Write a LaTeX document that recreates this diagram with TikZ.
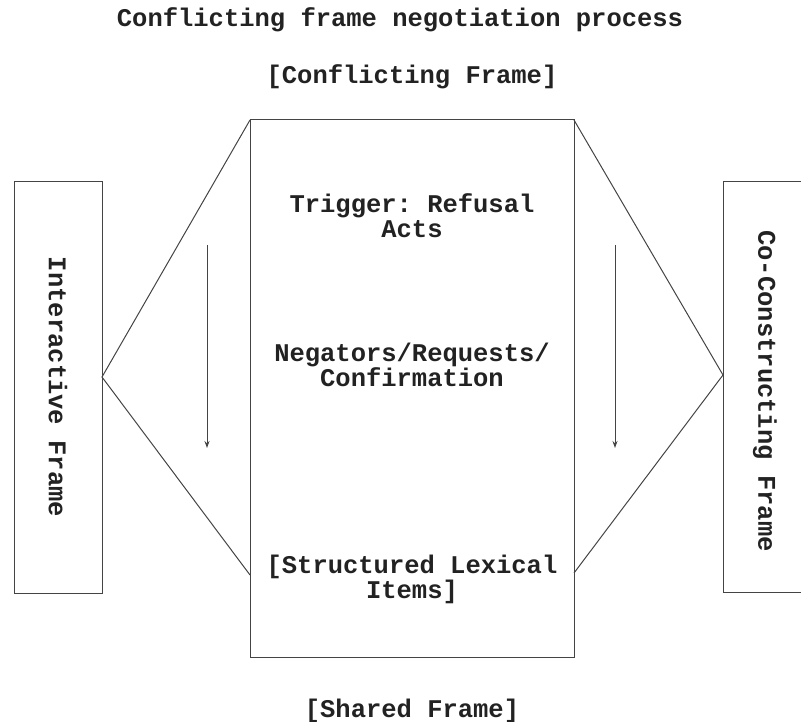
\documentclass[tikz,border=0pt]{standalone}
\usepackage{fontspec}
\setmonofont{Liberation Mono}
\usetikzlibrary{arrows.meta}
\definecolor{ink}{HTML}{222222}
\definecolor{edge}{HTML}{444444}
\begin{document}
\begin{tikzpicture}[x=1pt,y=-1pt,
  txt/.style={font=\ttfamily\bfseries\fontsize{25.5}{25}\selectfont, text=ink, align=center, inner sep=0pt},
  frame/.style={draw=edge, line width=1pt},
  link/.style={draw=edge, line width=1pt},
  flow/.style={draw=edge, line width=1pt, -{Stealth[length=7pt,width=5pt]}}]
\useasboundingbox (0,0) rectangle (801,722);
% boxes
\node[frame, minimum width=324pt, minimum height=537pt, inner sep=0pt] (center) at (412,388.5) {};
\node[frame, minimum width=88pt, minimum height=411pt, inner sep=0pt] (left) at (58,387.5) {};
\coordinate (rtop) at (801,182);
\coordinate (rtl) at (723,182);
\coordinate (rbl) at (723,592);
\coordinate (rbot) at (801,592);
\draw[frame] (rtop) -- (rtl) -- (rbl) -- (rbot);
% apex coordinates
\coordinate (lapex) at (102,377);
\coordinate (rapex) at (723,375);
\coordinate (clt) at (250,120);
\coordinate (clb) at (250,575);
\coordinate (crt) at (574,120);
\coordinate (crb) at (574,573);
\draw[link] (clt) -- (lapex) -- (clb);
\draw[link] (crt) -- (rapex) -- (crb);
% arrows
\coordinate (la1) at (207,245);
\coordinate (la2) at (207,448);
\coordinate (ra1) at (615,245);
\coordinate (ra2) at (615,448);
\draw[flow] (la1) -- (la2);
\draw[flow] (ra1) -- (ra2);
% texts
\node[txt] (title) at (400,20) {Conflicting frame negotiation process};
\node[txt] (conf) at (412,77) {[Conflicting Frame]};
\node[txt] (trig) at (412,216) {Trigger: Refusal\\Acts};
\node[txt] (neg) at (412,365) {Negators/Requests/\\Confirmation};
\node[txt] (struct) at (412,579) {[Structured Lexical\\Items]};
\node[txt] (shared) at (412,711) {[Shared Frame]};
\node[txt, rotate=-90] (inter) at (58,387) {Interactive Frame};
\node[txt, rotate=-90] (cocon) at (765,391) {Co-Constructing Frame};
\end{tikzpicture}
\end{document}
